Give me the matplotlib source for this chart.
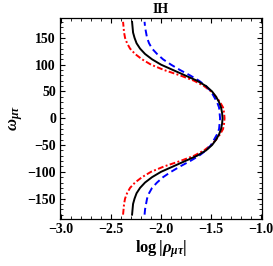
import numpy as np
from matplotlib import pyplot as plt
from matplotlib.ticker import MultipleLocator

# half of each curve, omega from 0 up to 180 (curves are mirror-symmetric in omega)
omega_half = [0, 10, 20, 30, 40, 50, 60, 70, 80, 90, 100, 110, 120, 130, 140, 150, 160, 170, 180]
black_half = [-1.385, -1.39, -1.40, -1.42, -1.45, -1.49, -1.55, -1.64, -1.76, -1.88, -2.00,
              -2.09, -2.16, -2.21, -2.245, -2.265, -2.28, -2.285, -2.29]
red_half = [-1.365, -1.37, -1.38, -1.41, -1.45, -1.50, -1.57, -1.67, -1.81, -1.97, -2.10,
            -2.19, -2.26, -2.31, -2.34, -2.36, -2.37, -2.375, -2.38]
blue_half = [-1.41, -1.415, -1.42, -1.44, -1.47, -1.50, -1.55, -1.62, -1.71, -1.81, -1.90,
             -1.98, -2.04, -2.09, -2.12, -2.14, -2.15, -2.16, -2.165]

xticks = [-3.0, -2.5, -2.0, -1.5, -1.0]
yticks = [-150, -100, -50, 0, 50, 100, 150]

def full(half, sign=1):
    half = np.array(half)
    return np.concatenate([sign * half[:0:-1], half])

omega = full(omega_half, -1)

plt.rcParams['font.family'] = ['Liberation Serif', 'DejaVu Serif']
plt.rcParams['font.weight'] = 'bold'
plt.rcParams['axes.labelweight'] = 'bold'
plt.rcParams['mathtext.fontset'] = 'custom'
plt.rcParams['mathtext.rm'] = 'Liberation Serif:bold'
plt.rcParams['mathtext.bf'] = 'Liberation Serif:bold'
plt.rcParams['mathtext.it'] = 'Liberation Serif:italic:bold'

fig = plt.figure(figsize=(2.73, 2.66), dpi=100)
ax = fig.add_axes([0.22, 0.177, 0.74, 0.757])

ax.plot(full(red_half), omega, color='red', lw=1.4, dashes=(3, 1.2, 1, 1.2))
ax.plot(full(blue_half), omega, color='blue', lw=1.4, dashes=(3.5, 2))
ax.plot(full(black_half), omega, color='black', lw=1.4)

ax.set_xlim(-3.01, -0.99)
ax.set_ylim(-188, 188)
ax.set_xticks(xticks, ['\u2212%.1f' % abs(v) if v < 0 else '%.1f' % v for v in xticks],
              fontweight='bold', fontsize=10)
ax.set_yticks(yticks, ['\u2212%d' % abs(v) if v < 0 else '%d' % v for v in yticks],
              fontweight='bold', fontsize=10)
ax.xaxis.set_minor_locator(MultipleLocator(0.1))
ax.yaxis.set_minor_locator(MultipleLocator(10))
ax.tick_params(which='both', direction='in', top=True, right=True, pad=3)
ax.tick_params(which='major', length=3.5, width=0.8)
ax.tick_params(which='minor', length=2, width=0.6)
for s in ax.spines.values():
    s.set_linewidth(0.9)

ax.set_title('IH', fontsize=10, fontweight='bold', pad=3)
ax.set_xlabel(r'log$\,|\rho_{\mu\tau}|$', fontsize=12, fontweight='bold', labelpad=2)
ax.set_ylabel(r'$\omega_{\mu\tau}$', fontsize=12, labelpad=2)

fig.savefig('out.png', dpi=100)
